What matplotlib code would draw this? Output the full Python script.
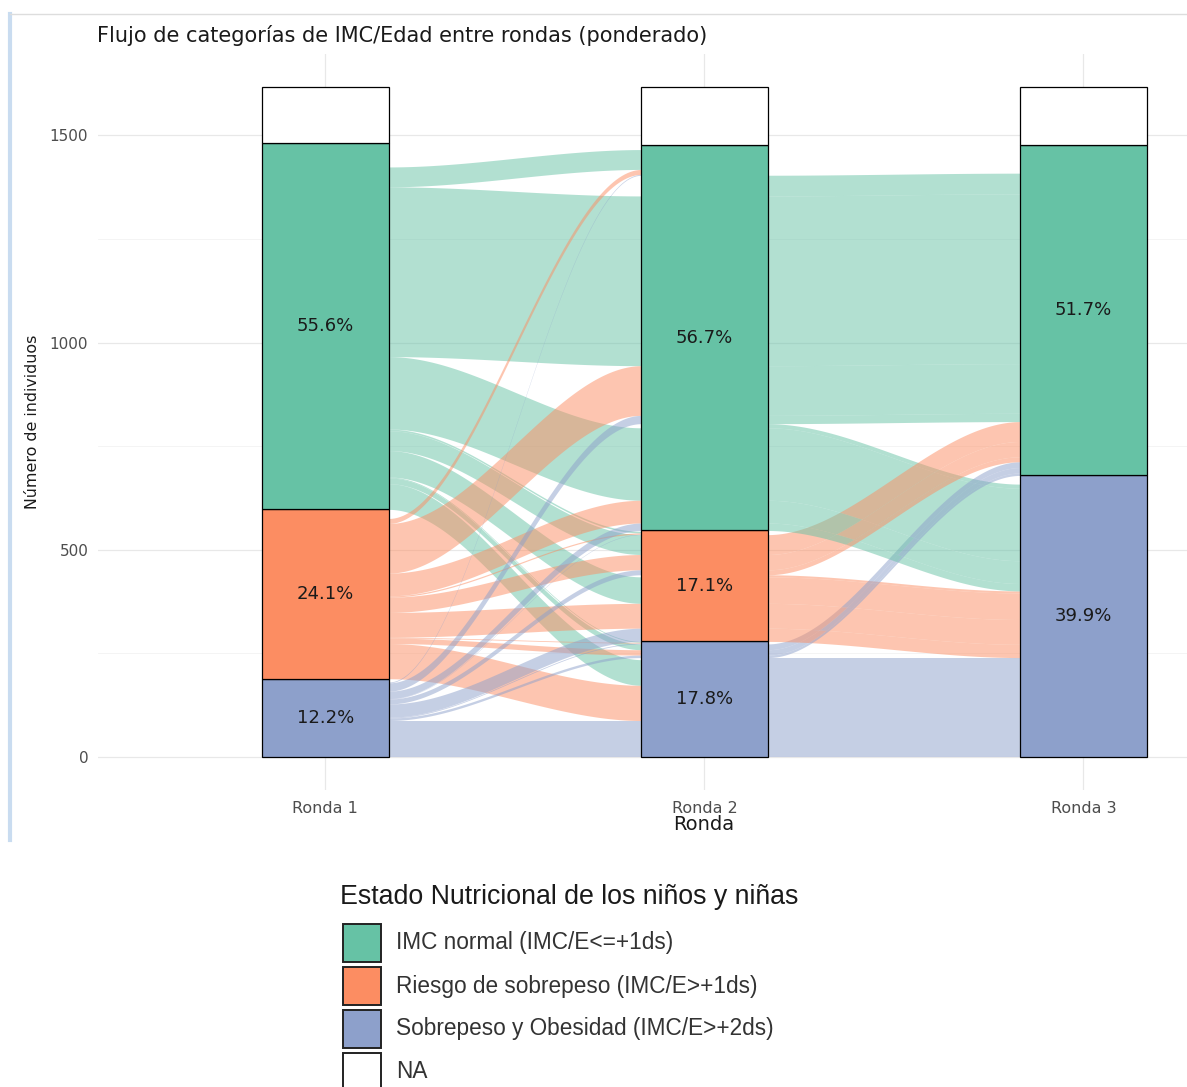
import matplotlib
matplotlib.use('Agg')
import matplotlib.pyplot as plt
import matplotlib.patches as mpatches
from matplotlib.lines import Line2D
import numpy as np

# ── DATA ────────────────────────────────────────────────────────────────────
ROUNDS = ['Ronda 1', 'Ronda 2', 'Ronda 3']
KEYS = ['N', 'R', 'S', 'NA']
CAT_LABELS = ['IMC normal (IMC/E<=+1ds)',
              'Riesgo de sobrepeso (IMC/E>+1ds)',
              'Sobrepeso y Obesidad (IMC/E>+2ds)',
              'NA']

# one entry per alluvium: category in each round + weighted count
R1_CAT = ['NA'] * 12 + ['N'] * 12 + ['R'] * 12 + ['S'] * 12
R2_CAT = ['NA', 'NA', 'NA', 'N', 'N', 'N', 'R', 'R', 'R', 'S', 'S', 'S'] * 4
R3_CAT = ['NA', 'N', 'S'] * 16
WEIGHT = [30, 15, 6, 12, 50, 10, 2, 0, 5, 0, 0, 5,
          10, 38, 9, 48, 410, 175, 4, 48, 64, 2, 14, 62,
          6, 12, 4, 12, 120, 55, 3, 37, 60, 2, 13, 85,
          2, 4, 2, 2, 20, 18, 1, 12, 32, 2, 6, 87]

PCT_N = ['55.6%', '56.7%', '51.7%']
PCT_R = ['24.1%', '17.1%', '']
PCT_S = ['12.2%', '17.8%', '39.9%']

# ── STYLE ───────────────────────────────────────────────────────────────────
COLORS = {'N': '#66C2A5', 'R': '#FC8D62', 'S': '#8DA0CB', 'NA': '#FFFFFF'}
ORDER = {'NA': 0, 'N': 1, 'R': 2, 'S': 3}   # top -> bottom
STACK = ['S', 'R', 'N', 'NA']               # bottom -> top
BAR_W = 1 / 3
GUIDE = {0: (1, 2), 1: (2, 0), 2: (1, 0)}   # zigzag lode ordering

W, H = 1187, 1087
fig = plt.figure(figsize=(W / 100, H / 100), dpi=100)
fig.patch.set_facecolor('white')

cats = [R1_CAT, R2_CAT, R3_CAT]
n = len(WEIGHT)
total = sum(WEIGHT)

totals = [{k: sum(w for c, w in zip(cats[a], WEIGHT) if c == k) for k in STACK}
          for a in range(3)]
bottoms = []
for a in range(3):
    b, acc = {}, 0
    for k in STACK:
        b[k] = acc
        acc += totals[a][k]
    bottoms.append(b)

lode_lo = np.zeros((3, n))
lode_hi = np.zeros((3, n))
for a in range(3):
    for k in STACK:
        idx = [i for i in range(n) if cats[a][i] == k]
        idx.sort(key=lambda i: tuple(ORDER[cats[g][i]] for g in GUIDE[a]))
        top = bottoms[a][k] + totals[a][k]
        for i in idx:
            lode_hi[a, i] = top
            top -= WEIGHT[i]
            lode_lo[a, i] = top

# ── AXES ────────────────────────────────────────────────────────────────────
px_unit = 379
ax = fig.add_axes([98 / W, (H - 790) / H, 3.2 * px_unit / W, 736 / H])
ax.set_xlim(0.4, 3.6)
ax.set_ylim(-0.05 * total, 1.05 * total)
for sp in ax.spines.values():
    sp.set_visible(False)

for y in [250, 750, 1250]:
    ax.axhline(y, color='#F3F3F3', lw=0.6, zorder=0)
for y in [0, 500, 1000, 1500]:
    ax.axhline(y, color='#E8E8E8', lw=0.9, zorder=0)
for x in [1, 2, 3]:
    ax.axvline(x, color='#E8E8E8', lw=0.9, zorder=0)

# flows
t = np.linspace(0, 1, 90)
s = 3 * t ** 2 - 2 * t ** 3
for a in range(2):
    x0, x1 = a + 1 + BAR_W / 2, a + 2 - BAR_W / 2
    xs = x0 + (x1 - x0) * t
    for i in range(n):
        c0, c1 = cats[a][i], cats[a + 1][i]
        if WEIGHT[i] == 0 or c0 == 'NA' or c1 == 'NA':
            continue
        lo = lode_lo[a, i] + (lode_lo[a + 1, i] - lode_lo[a, i]) * s
        hi = lode_hi[a, i] + (lode_hi[a + 1, i] - lode_hi[a, i]) * s
        ax.fill_between(xs, lo, hi, color=COLORS[c0], alpha=0.5, lw=0, zorder=1)

# strata
pct = {'N': PCT_N, 'R': PCT_R, 'S': PCT_S}
for a in range(3):
    for k in STACK:
        h = totals[a][k]
        if h == 0:
            continue
        ax.bar(a + 1, h, bottom=bottoms[a][k], width=BAR_W, color=COLORS[k],
               edgecolor='black', linewidth=0.9, zorder=3)
        if k != 'NA' and pct[k][a]:
            ax.text(a + 1, bottoms[a][k] + h / 2, pct[k][a], ha='center',
                    va='center', fontsize=13, color='#1A1A1A', zorder=4)

ax.set_yticks([0, 500, 1000, 1500])
ax.set_yticklabels(['0', '500', '1000', '1500'])
ax.set_xticks([1, 2, 3])
ax.set_xticklabels(ROUNDS)
ax.tick_params(axis='both', length=0, labelsize=11, colors='#4D4D4D')
ax.tick_params(axis='y', pad=7)
ax.tick_params(axis='x', pad=8)
for lab in ax.get_xticklabels():
    lab.set_fontsize(11.5)

# ── TEXT ────────────────────────────────────────────────────────────────────
fig.text(97 / W, 1 - 35 / H, 'Flujo de categorías de IMC/Edad entre rondas (ponderado)',
         ha='left', va='center', fontsize=15, color='#1A1A1A')
fig.text(704 / W, 1 - 825 / H, 'Ronda', ha='center', va='center',
         fontsize=14, color='#1A1A1A')
fig.text(33 / W, 1 - 422 / H, 'Número de individuos', ha='center', va='center',
         rotation=90, fontsize=11.4, color='#1A1A1A')

# ── LEGEND ──────────────────────────────────────────────────────────────────
fig.text(340 / W, 1 - 897 / H, 'Estado Nutricional de los niños y niñas',
         ha='left', va='center', fontsize=19.3, color='#1A1A1A',
         family='Liberation Sans')
for j, (k, lab) in enumerate(zip(KEYS, CAT_LABELS)):
    ytop = 924 + 43 * j
    fig.add_artist(mpatches.Rectangle((343 / W, 1 - (ytop + 38) / H), 38 / W, 38 / H,
                                      transform=fig.transFigure, facecolor=COLORS[k],
                                      edgecolor='#222222', linewidth=1.4))
    fig.text(396 / W, 1 - (ytop + 19) / H, lab, ha='left', va='center',
             fontsize=16.3, color='#333333', family='Liberation Sans')

# screenshot frame
fig.add_artist(Line2D([10 / W, 10 / W], [1 - 14 / H, 1 - 840 / H],
                      transform=fig.transFigure, color='#C9DCF0', lw=3))
fig.add_artist(Line2D([10 / W, 1], [1 - 14 / H, 1 - 14 / H],
                      transform=fig.transFigure, color='#DDDDDD', lw=1))

fig.savefig('out.png', dpi=100, facecolor='white')
